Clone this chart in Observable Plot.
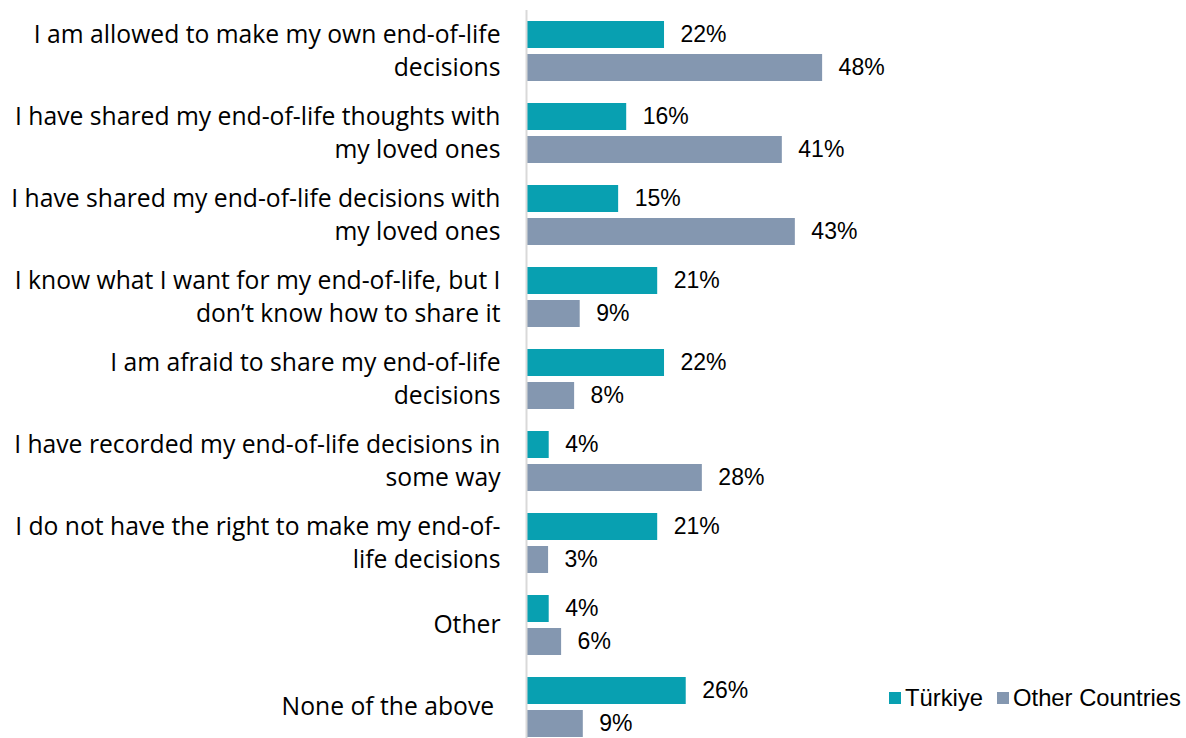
<!DOCTYPE html>
<html><head><meta charset="utf-8">
<script src="https://cdn.jsdelivr.net/npm/d3@7"></script>
<script src="https://cdn.jsdelivr.net/npm/@observablehq/plot@0.6"></script>
<style>
body{margin:0;background:#fff;}
#wrap{position:relative;width:1186px;height:738px;overflow:hidden;background:#fff;}
#legend{position:absolute;left:889px;top:681px;width:300px;}
.lg-swatches{font-family:"Liberation Sans",Arial,sans-serif !important;font-size:23.8px !important;color:#000 !important;flex-wrap:nowrap !important;white-space:nowrap;}
.lg-swatch{margin-right:14px !important;}
.lg-swatch > svg{margin-right:4px !important;}
</style></head><body><div id="wrap"><div id="chart"></div><div id="legend"></div></div>
<script>
const categories = [
  "I am allowed to make my own end-of-life\ndecisions",
  "I have shared my end-of-life thoughts with\nmy loved ones",
  "I have shared my end-of-life decisions with\nmy loved ones",
  "I know what I want for my end-of-life, but I\ndon\u2019t know how to share it",
  "I am afraid to share my end-of-life\ndecisions",
  "I have recorded my end-of-life decisions in\nsome way",
  "I do not have the right to make my end-of-\nlife decisions",
  "Other",
  "None of the above "
];
const series = ["Türkiye", "Other Countries"];
const turkiye = [22.1, 16.0, 14.7, 21.0, 22.1, 3.5, 21.0, 3.5, 25.6];
const others  = [47.6, 41.1, 43.2, 8.5, 7.6, 28.2, 3.4, 5.5, 9.0];
const colors = ["#08a0b1", "#8497b0"];

const data = categories.flatMap((c, i) => [
  {category: c, series: series[0], value: turkiye[i]},
  {category: c, series: series[1], value: others[i]}
]);

const chart = Plot.plot({
  width: 1186, height: 738,
  marginTop: 8, marginBottom: -12, marginLeft: 527, marginRight: 39,
  x: {domain: [0, 100], axis: null},
  y: {domain: series, axis: null, paddingInner: 0.1765, paddingOuter: 0.3},
  fy: {domain: categories, padding: 0, label: null},
  color: {domain: series, range: colors},
  style: {fontFamily: "'Liberation Sans', Arial, sans-serif", background: "#fff"},
  marks: [
    Plot.barX(data, {x: "value", y: "series", fy: "category", fill: "series"}),
    Plot.text(data, {x: "value", y: "series", fy: "category", text: d => Math.round(d.value) + "%",
      textAnchor: "start", dx: 16, fontSize: 23, fill: "#000"}),
    Plot.axisFy({anchor: "left", tickSize: 0, tickPadding: 27, dy: -3, fontSize: 24.7, fontFamily: "Open Sans", lineHeight: 33/24.7, fill: "#000", label: null}),
    Plot.ruleX([0], {stroke: "#d9d9d9", strokeWidth: 2, dx: -1})
  ]
});
document.getElementById("chart").appendChild(chart);

const legend = Plot.legend({color: {domain: series, range: colors}, legend: "swatches", swatchSize: 12, className: "lg"});
document.getElementById("legend").appendChild(legend);
</script>
</body></html>
